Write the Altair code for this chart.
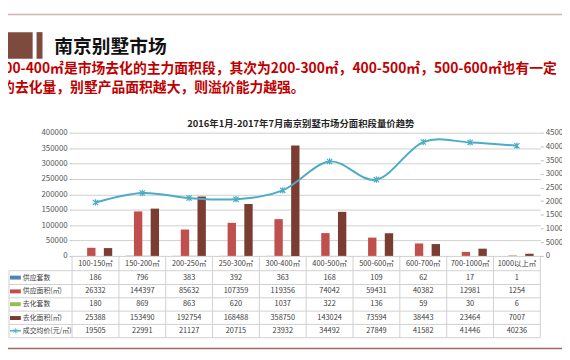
import altair as alt
import pandas as pd

FONT = "Noto Sans CJK SC"

# ---------------- data ----------------
categories = ["100-150㎡", "150-200㎡", "200-250㎡", "250-300㎡", "300-400㎡",
              "400-500㎡", "500-600㎡", "600-700㎡", "700-1000㎡", "1000以上㎡"]
series_names = ["供应套数", "供应面积(㎡)", "去化套数", "去化面积(㎡)"]
supply_units = [186, 796, 383, 392, 363, 168, 109, 62, 17, 1]
supply_area = [26332, 144397, 85632, 107359, 119356, 74042, 59431, 40382, 12981, 1254]
sold_units = [180, 869, 863, 620, 1037, 322, 136, 59, 30, 6]
sold_area = [25388, 153490, 192754, 168488, 358750, 143024, 73594, 38443, 23464, 7007]
price = [19505, 22991, 21127, 20715, 23932, 34492, 27849, 41582, 41446, 40236]
price_name = "成交均价(元/㎡)"

left_ticks = [0, 50000, 100000, 150000, 200000, 250000, 300000, 350000, 400000]
right_ticks = [0, 5000, 10000, 15000, 20000, 25000, 30000, 35000, 40000, 45000]

slide_title = "南京别墅市场"
note_line1 = "300-400㎡是市场去化的主力面积段，其次为200-300㎡，400-500㎡，500-600㎡也有一定"
note_line2 = "的去化量，别墅产品面积越大，则溢价能力越强。"
chart_title = "2016年1月-2017年7月南京别墅市场分面积段量价趋势"

colors = ["#4f81bd", "#c0504d", "#9bbb59", "#7b3d31"]
line_color = "#4bacc6"
border = "#d0d0d0"
star = "M-1,-1L1,1M-1,1L1,-1M0,-1.2L0,1.2"

all_series = [supply_units, supply_area, sold_units, sold_area]
rows = []
for name, vals in zip(series_names, all_series):
    for c, v in zip(categories, vals):
        rows.append({"cat": c, "series": name, "value": v})
bars_df = pd.DataFrame(rows)
price_df = pd.DataFrame({"cat": categories, "price": price})
cat_df = pd.DataFrame({"cat": categories})

xs = alt.Scale(paddingInner=0, paddingOuter=0)


def X(**kw):
    return alt.X("cat:N", sort=categories, scale=xs, axis=None, **kw)


bars = alt.Chart(bars_df).mark_bar().encode(
    x=X(),
    xOffset=alt.XOffset("series:N", sort=series_names,
                        scale=alt.Scale(paddingInner=0, paddingOuter=0.8)),
    y=alt.Y("value:Q", scale=alt.Scale(domain=[0, 400000]),
            axis=alt.Axis(orient="left", values=left_ticks, format="d", title=None,
                          grid=True, gridColor="#cfcfcf", domain=False, tickSize=3,
                          tickColor="#bfbfbf", labelFontSize=8, labelColor="#595959",
                          labelFont=FONT, labelPadding=2)),
    color=alt.Color("series:N", scale=alt.Scale(domain=series_names, range=colors),
                    legend=None),
)

line = alt.Chart(price_df).mark_line(
    interpolate="cardinal", color=line_color, strokeWidth=2,
    point=alt.OverlayMarkDef(shape=star, filled=False, size=28, color=line_color,
                             strokeWidth=1.2),
).encode(
    x=X(),
    y=alt.Y("price:Q", scale=alt.Scale(domain=[0, 45000]),
            axis=alt.Axis(orient="right", values=right_ticks, format="d", title=None,
                          grid=False, domain=False, tickSize=3, tickColor="#bfbfbf",
                          labelFontSize=8, labelColor="#595959", labelFont=FONT,
                          labelPadding=2)),
)

layers = []


def text_layer(txt, x, y, **kw):
    return alt.Chart(pd.DataFrame({"t": [txt]})).mark_text(font=FONT, **kw).encode(
        x=alt.value(x), y=alt.value(y), text="t:N")


def hrule(x1, x2, y, color, w=1):
    return alt.Chart(pd.DataFrame({"a": [0]})).mark_rule(color=color, strokeWidth=w).encode(
        x=alt.value(x1), x2=alt.value(x2), y=alt.value(y))


def vrule(x, y1, y2, color, w=1):
    return alt.Chart(pd.DataFrame({"a": [0]})).mark_rule(color=color, strokeWidth=w).encode(
        x=alt.value(x), y=alt.value(y1), y2=alt.value(y2))


layers.append(hrule(-65, 497, -120, "#cfb3b0", 1.5))
layers.append(alt.Chart(pd.DataFrame({"a": [0]})).mark_rect(color="#7e4a3d").encode(
    x=alt.value(-73), x2=alt.value(-40), y=alt.value(-102), y2=alt.value(-75)))
layers.append(alt.Chart(pd.DataFrame({"a": [0]})).mark_rect(color="#7e4a3d").encode(
    x=alt.value(-36), x2=alt.value(-30), y=alt.value(-102), y2=alt.value(-75)))
layers.append(text_layer(slide_title, -18, -87, align="left", baseline="middle",
                         fontSize=19, fontWeight="bold", color="#111111"))
layers.append(text_layer(note_line1, -77, -65, align="left", baseline="middle",
                         fontSize=14, fontWeight="bold", color="#c00000"))
layers.append(text_layer(note_line2, -72, -45, align="left", baseline="middle",
                         fontSize=14, fontWeight="bold", color="#c00000"))
layers.append(text_layer(chart_title, 232, -9, align="center", baseline="middle",
                         fontSize=9.5, fontWeight="bold", color="#262626"))

# table grid
row_lines = [140, 154, 167.5, 181, 194.5, 208]
row_centers = [147, 161, 174, 188, 201]
for r in row_lines:
    layers.append(hrule(-64, 475, r, border))
layers.append(vrule(-64, 140, 208, border))
layers.append(alt.Chart(cat_df).mark_rule(color=border).encode(
    x=X(bandPosition=0), y=alt.value(125), y2=alt.value(208)))
layers.append(alt.Chart(cat_df.tail(1)).mark_rule(color=border).encode(
    x=X(bandPosition=1), y=alt.value(125), y2=alt.value(208)))

# header labels
layers.append(alt.Chart(cat_df).mark_text(font=FONT, fontSize=7.5, color="#404040",
                                          baseline="middle").encode(
    x=X(), y=alt.value(133), text="cat:N"))

# table values
for i, name in enumerate(series_names):
    layers.append(alt.Chart(bars_df).transform_filter(
        alt.datum.series == name).mark_text(font=FONT, fontSize=7.5, color="#404040",
                                            baseline="middle").encode(
        x=X(), y=alt.value(row_centers[i]), text=alt.Text("value:Q", format="d")))
    layers.append(hrule(-63, -52, row_centers[i], colors[i], 4))
    layers.append(text_layer(name, -50, row_centers[i], align="left", baseline="middle",
                             fontSize=7, color="#404040"))
layers.append(alt.Chart(price_df).mark_text(font=FONT, fontSize=7.5, color="#404040",
                                            baseline="middle").encode(
    x=X(), y=alt.value(row_centers[4]), text=alt.Text("price:Q", format="d")))
layers.append(hrule(-63, -52, row_centers[4], line_color, 1.5))
layers.append(alt.Chart(pd.DataFrame({"a": [0]})).mark_point(
    shape=star, filled=False, size=20, color=line_color, strokeWidth=1).encode(
    x=alt.value(-57.5), y=alt.value(row_centers[4])))
layers.append(text_layer(price_name, -50, row_centers[4], align="left", baseline="middle",
                         fontSize=7, color="#404040"))

# bottom line
layers.append(hrule(-65, 497, 219, "#a06a5e", 1.5))

main = alt.layer(bars, line).resolve_scale(y="independent")
chart = alt.layer(main, *layers).properties(
    width=475, height=125,
    padding={"left": 65, "top": 124, "right": 22, "bottom": 95},
    autosize=alt.AutoSizeParams(type="none"),
    background="white",
).configure_view(stroke=None)

chart.save("out.html", embed_options={"renderer": "svg", "actions": False})
